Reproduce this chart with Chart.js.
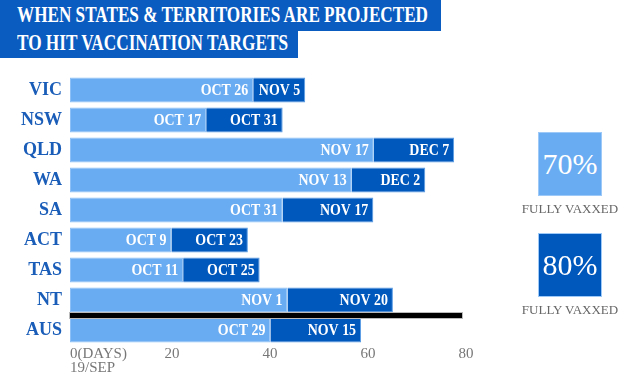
<!DOCTYPE html>
<html lang="en">
<head>
<meta charset="UTF-8">
<title>vaccination targets</title>
<script src="https://cdn.jsdelivr.net/npm/chart.js@4"></script>
<style>
    body { margin: 0; background: #fff; }
    #wrap { position: relative; width: 636px; height: 377px; overflow: hidden; }
    #chart { position: absolute; left: 0; top: 0; }
    .title {
        position: absolute; left: 0; background: #0a5cc1; color: #fff;
        font-family: "Liberation Serif", serif; font-weight: bold; font-size: 23px;
        white-space: nowrap;
    }
    .title span { position: absolute; left: 17px; transform-origin: 0 0; }
    .key {
        position: absolute; left: 538px; width: 62px; height: 62px;
        border: 1px solid #9cc9f7; color: #fff;
        font-family: "Liberation Serif", serif; font-size: 30px;
        display: flex; align-items: center; justify-content: center;
    }
    .keytxt {
        position: absolute; left: 518px; width: 104px; text-align: center;
        font-family: "Liberation Serif", serif; font-size: 13px; color: #666;
    }
</style>
</head>
<body>
<div id="wrap">
    <canvas id="chart" width="636" height="377"></canvas>
    <div class="title" style="top:0;width:441px;height:31px"><span data-w="411" style="top:2px">WHEN STATES &amp; TERRITORIES ARE PROJECTED</span></div>
    <div class="title" style="top:31px;width:298px;height:27px"><span data-w="271" style="top:-1px">TO HIT VACCINATION TARGETS</span></div>
    <div class="key" style="top:132px;background:#6aacf2">70%</div>
    <div class="keytxt" style="top:201px">FULLY VAXXED</div>
    <div class="key" style="top:233px;background:#0058bd">80%</div>
    <div class="keytxt" style="top:302px">FULLY VAXXED</div>
</div>
<script>
    const categories = ['VIC', 'NSW', 'QLD', 'WA', 'SA', 'ACT', 'TAS', 'NT', 'AUS'];
    // days since 19 Sep
    const day70 = [37.4, 27.8, 62.0, 57.5, 43.4, 20.7, 23.1, 44.4, 40.9];
    const day80 = [48.0, 43.4, 78.4, 72.5, 61.9, 36.3, 38.7, 65.9, 59.4];
    const label70 = ['OCT 26', 'OCT 17', 'NOV 17', 'NOV 13', 'OCT 31', 'OCT 9', 'OCT 11', 'NOV 1', 'OCT 29'];
    const label80 = ['NOV 5', 'OCT 31', 'DEC 7', 'DEC 2', 'NOV 17', 'OCT 23', 'OCT 25', 'NOV 20', 'NOV 15'];
    const xTicks = [0, 20, 40, 60, 80];
    const xTickLabels = [['0(DAYS)', '19/SEP'], ['20'], ['40'], ['60'], ['80']];
    const separatorAfter = 'NT';

    // squeeze the title text to the width of the original
    document.querySelectorAll('.title span').forEach(function (s) {
        const w = s.getBoundingClientRect().width;
        s.style.transform = 'scaleX(' + (Number(s.dataset.w) / w) + ')';
    });

    const LIGHT = '#6aacf2';
    const DARK = '#0058bd';
    const SERIF = '"Liberation Serif", serif';

    const barLabels = {
        id: 'barLabels',
        afterDatasetsDraw(chart) {
            const ctx = chart.ctx;
            const texts = [label70, label80];
            ctx.save();
            ctx.fillStyle = '#fff';
            ctx.font = 'bold 16px ' + SERIF;
            ctx.textAlign = 'right';
            ctx.textBaseline = 'middle';
            chart.data.datasets.forEach((ds, d) => {
                chart.getDatasetMeta(d).data.forEach((bar, i) => {
                    ctx.save();
                    ctx.translate(bar.x - 5, bar.y + 1);
                    ctx.scale(0.87, 1);
                    ctx.fillText(texts[d][i], 0, 0);
                    ctx.restore();
                });
            });
            ctx.restore();
        }
    };

    const extras = {
        id: 'extras',
        afterDraw(chart) {
            const ctx = chart.ctx;
            const x = chart.scales.x;
            const y = chart.scales.y;
            const k = categories.indexOf(separatorAfter);
            const ly = (y.getPixelForValue(k) + y.getPixelForValue(k + 1)) / 2 + 0.5;
            const x0 = x.getPixelForValue(0);
            const x1 = x.getPixelForValue(80);
            ctx.save();
            ctx.fillStyle = '#bbb';
            ctx.fillRect(x0 - 1, ly - 3.5, x1 - x0 + 2, 7);
            ctx.fillStyle = '#000';
            ctx.fillRect(x0, ly - 2.5, x1 - x0, 5);

            ctx.fillStyle = '#777';
            ctx.font = '15px ' + SERIF;
            ctx.textBaseline = 'alphabetic';
            xTicks.forEach((v, i) => {
                const px = x.getPixelForValue(v);
                const lines = xTickLabels[i];
                ctx.textAlign = v === 0 ? 'left' : 'center';
                lines.forEach((t, j) => {
                    ctx.fillText(t, v === 0 ? px : px + 4, 358 + j * 14);
                });
            });
            ctx.restore();
        }
    };

    new Chart(document.getElementById('chart'), {
        type: 'bar',
        data: {
            labels: categories,
            datasets: [
                {
                    label: '70% fully vaxxed',
                    data: day70,
                    backgroundColor: LIGHT,
                    borderColor: '#8cc0f6',
                    borderWidth: 1,
                    borderSkipped: false,
                    grouped: false,
                    order: 2
                },
                {
                    label: '80% fully vaxxed',
                    data: categories.map((c, i) => [day70[i], day80[i]]),
                    backgroundColor: DARK,
                    borderColor: '#5a9de6',
                    borderWidth: 1,
                    borderSkipped: 'start',
                    grouped: false,
                    order: 1
                }
            ]
        },
        options: {
            indexAxis: 'y',
            responsive: false,
            animation: false,
            events: [],
            barPercentage: 0.83,
            categoryPercentage: 1,
            layout: { padding: { top: 75, right: 174, bottom: 32, left: 0 } },
            scales: {
                x: { display: false, min: 0, max: 80 },
                y: {
                    afterFit(scale) { scale.width = 70; },
                    grid: { display: false, drawTicks: false },
                    border: { display: false },
                    ticks: {
                        padding: 8,
                        color: '#1a5db8',
                        font: { family: SERIF, weight: 'bold', size: 18 }
                    }
                }
            },
            plugins: {
                legend: { display: false },
                tooltip: { enabled: false }
            }
        },
        plugins: [barLabels, extras]
    });
</script>
</body>
</html>
